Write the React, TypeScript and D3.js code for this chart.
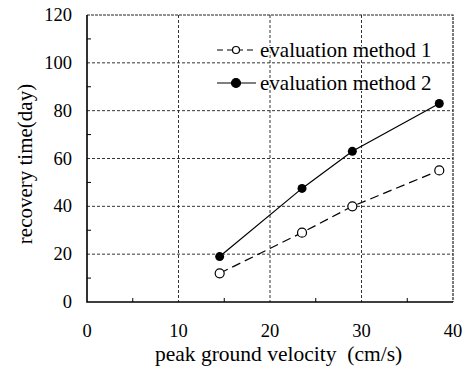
import * as d3 from "d3";
import React, { useRef, useEffect } from "react";

const velocity = [14.5, 23.5, 29, 38.5];
const method1 = [12, 29, 40, 55];
const method2 = [19, 47.5, 63, 83];
const seriesNames = ["evaluation method 1", "evaluation method 2"];
const xTicks = [0, 10, 20, 30, 40];
const yTicks = [0, 20, 40, 60, 80, 100, 120];
const xMinor = [5, 15, 25, 35];
const yMinor = [10, 30, 50, 70, 90, 110];

const width = 464;
const height = 367;
const margin = { top: 15, right: 11, bottom: 65, left: 87 };
const bodyWidth = width - margin.left - margin.right;
const bodyHeight = height - margin.top - margin.bottom;
const font = "Liberation Serif, Times New Roman, Tinos, serif";

const App = () => {
  const ref = useRef<SVGSVGElement>(null);

  useEffect(() => {
    const svg = d3.select(ref.current);
    svg.selectAll("*").remove();
    const x = d3.scaleLinear().domain([0, 40]).range([0, bodyWidth]);
    const y = d3.scaleLinear().domain([0, 120]).range([bodyHeight, 0]);

    const main = svg
      .append("g")
      .attr("transform", `translate(${margin.left}, ${margin.top})`);

    // grid
    main
      .selectAll(".gx")
      .data(xTicks.slice(1, -1))
      .join("line")
      .attr("x1", (d) => x(d))
      .attr("x2", (d) => x(d))
      .attr("y1", 0)
      .attr("y2", bodyHeight)
      .attr("stroke", "#333")
      .attr("stroke-width", 1)
      .attr("stroke-dasharray", "3,2");
    main
      .selectAll(".gy")
      .data(yTicks.slice(1, -1))
      .join("line")
      .attr("y1", (d) => y(d))
      .attr("y2", (d) => y(d))
      .attr("x1", 0)
      .attr("x2", bodyWidth)
      .attr("stroke", "#333")
      .attr("stroke-width", 1)
      .attr("stroke-dasharray", "3,2");
    // top and right dashed border
    main
      .append("path")
      .attr("d", `M0,0H${bodyWidth}V${bodyHeight}`)
      .attr("fill", "none")
      .attr("stroke", "#222")
      .attr("stroke-width", 1.2)
      .attr("stroke-dasharray", "3,1");

    // minor ticks
    main
      .selectAll(".mx")
      .data(xMinor)
      .join("line")
      .attr("x1", (d) => x(d))
      .attr("x2", (d) => x(d))
      .attr("y1", bodyHeight)
      .attr("y2", bodyHeight - 4)
      .attr("stroke", "#000");
    main
      .selectAll(".my")
      .data(yMinor)
      .join("line")
      .attr("y1", (d) => y(d))
      .attr("y2", (d) => y(d))
      .attr("x1", 0)
      .attr("x2", 4)
      .attr("stroke", "#000");

    // axes lines
    main
      .append("path")
      .attr("d", `M0,0V${bodyHeight}H${bodyWidth}`)
      .attr("fill", "none")
      .attr("stroke", "#000")
      .attr("stroke-width", 1.6);

    // tick labels
    main
      .selectAll(".xl")
      .data(xTicks)
      .join("text")
      .attr("x", (d) => x(d))
      .attr("y", bodyHeight + 35)
      .attr("text-anchor", "middle")
      .style("font-family", font)
      .style("font-size", "18.5px")
      .text((d) => d);
    main
      .selectAll(".yl")
      .data(yTicks)
      .join("text")
      .attr("x", -15)
      .attr("y", (d) => y(d) + 6)
      .attr("text-anchor", "end")
      .style("font-family", font)
      .style("font-size", "18.5px")
      .text((d) => d);

    // axis titles
    svg
      .append("text")
      .attr("x", 155)
      .attr("y", 361)
      .style("font-family", font)
      .style("font-size", "21.5px")
      .style("white-space", "pre")
      .text("peak ground velocity  (cm/s)");
    svg
      .append("text")
      .attr("transform", `translate(32, 164) rotate(-90)`)
      .attr("text-anchor", "middle")
      .style("font-family", font)
      .style("font-size", "21px")
      .text("recovery time(day)");

    const line = d3
      .line<number>()
      .x((_, i) => x(velocity[i]))
      .y((d) => y(d));

    main
      .append("path")
      .attr("d", line(method1))
      .attr("fill", "none")
      .attr("stroke", "#000")
      .attr("stroke-width", 1.2)
      .attr("stroke-dasharray", "9,5");
    main
      .append("path")
      .attr("d", line(method2))
      .attr("fill", "none")
      .attr("stroke", "#000")
      .attr("stroke-width", 1.2);

    main
      .selectAll(".p1")
      .data(method1)
      .join("circle")
      .attr("cx", (_, i) => x(velocity[i]))
      .attr("cy", (d) => y(d))
      .attr("r", 4.5)
      .attr("fill", "#fff")
      .attr("stroke", "#000")
      .attr("stroke-width", 1.2);
    main
      .selectAll(".p2")
      .data(method2)
      .join("circle")
      .attr("cx", (_, i) => x(velocity[i]))
      .attr("cy", (d) => y(d))
      .attr("r", 4.5)
      .attr("fill", "#000");

    // legend
    const legend = svg.append("g");
    seriesNames.forEach((name, i) => {
      const ly = 50 + i * 33;
      legend
        .append("line")
        .attr("x1", 217)
        .attr("x2", 256)
        .attr("y1", ly)
        .attr("y2", ly)
        .attr("stroke", "#000")
        .attr("stroke-width", 1.2)
        .attr("stroke-dasharray", i === 0 ? "6,4" : null);
      legend
        .append("circle")
        .attr("cx", 236)
        .attr("cy", ly)
        .attr("r", i === 0 ? 3.5 : 4.5)
        .attr("fill", i === 0 ? "#fff" : "#000")
        .attr("stroke", "#000")
        .attr("stroke-width", 1.2);
      legend
        .append("text")
        .attr("x", 260)
        .attr("y", ly + 7)
        .style("font-family", font)
        .style("font-size", "21px")
        .style("paint-order", "stroke")
        .style("stroke", "#fff")
        .style("stroke-width", "2px")
        .text(name);
    });
  }, []);

  return <svg ref={ref} width={width} height={height} style={{ position: "absolute", left: 0, top: 0 }} />;
};

export default App;
